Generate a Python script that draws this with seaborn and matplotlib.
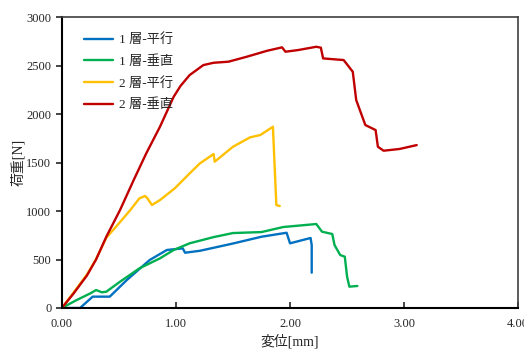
import seaborn as sns
import matplotlib.pyplot as plt
import pandas as pd

sns.set_theme(style="white")
plt.rcParams['font.family'] = ['Liberation Serif', 'Noto Sans CJK JP', 'DejaVu Sans']

# 1層-平行
x_1p = [0.00, 0.16, 0.27, 0.42, 0.57, 0.77, 0.92, 1.06, 1.08, 1.21, 1.50, 1.75, 1.97, 2.00, 2.18,
        2.19, 2.19]
y_1p = [0, 0, 117, 117, 289, 495, 598, 615, 570, 590, 665, 735, 776, 667, 722,
        649, 364]

# 1層-垂直
x_1v = [0.00, 0.13, 0.25, 0.30, 0.35, 0.39, 0.51, 0.68, 0.86, 0.98, 1.12, 1.33, 1.50, 1.75, 1.94,
        2.23, 2.28, 2.37, 2.39, 2.44, 2.48, 2.50, 2.52, 2.59]
y_1v = [0, 82, 151, 185, 162, 168, 271, 409, 512, 598, 667, 731, 773, 783, 835,
        866, 787, 763, 649, 546, 529, 323, 220, 227]

# 2層-平行
x_2p = [0.00, 0.10, 0.22, 0.30, 0.39, 0.48, 0.60, 0.68, 0.73, 0.75, 0.79, 0.86, 0.99, 1.12, 1.21,
        1.33, 1.34, 1.50, 1.65, 1.74, 1.85, 1.88, 1.91]
y_2p = [0, 155, 345, 505, 725, 845, 1010, 1131, 1155, 1131, 1062, 1113, 1234, 1388, 1491,
        1588, 1509, 1663, 1760, 1784, 1869, 1062, 1051]

# 2層-垂直
x_2v = [0.00, 0.10, 0.22, 0.30, 0.39, 0.51, 0.63, 0.74, 0.86, 0.98, 1.04, 1.12, 1.24, 1.33, 1.46,
        1.62, 1.80, 1.93, 1.96, 2.07, 2.23, 2.27, 2.29, 2.47, 2.55, 2.58, 2.66, 2.75, 2.77, 2.82,
        2.96, 3.11]
y_2v = [0, 145, 335, 500, 735, 1010, 1320, 1595, 1869, 2178, 2290, 2402, 2505, 2529, 2540,
        2591, 2653, 2688, 2643, 2660, 2694, 2685, 2574, 2557, 2436, 2144, 1887, 1835, 1663, 1622,
        1640, 1680]

series = [("1 層-平行", x_1p, y_1p, "#0070C0"),
          ("1 層-垂直", x_1v, y_1v, "#00B050"),
          ("2 層-平行", x_2p, y_2p, "#FFC000"),
          ("2 層-垂直", x_2v, y_2v, "#C00000")]

fig, ax = plt.subplots(figsize=(5.24, 3.49), dpi=100)
fig.subplots_adjust(left=0.118, right=0.989, bottom=0.1175, top=0.951)

for name, xs, ys, c in series:
    df = pd.DataFrame({"x": xs, "y": ys})
    sns.lineplot(data=df, x="x", y="y", sort=False, estimator=None,
                 color=c, linewidth=1.7, label=name, ax=ax)

ax.set(xlim=(0, 4), ylim=(0, 3000))
ax.set_xticks([0, 1, 2, 3, 4])
ax.set_xticklabels(["0.00", "1.00", "2.00", "3.00", "4.00"])
ax.set_yticks(range(0, 3001, 500))
ax.tick_params(axis="x", direction="in", length=4, width=1.2, labelsize=9, pad=7, bottom=True)
ax.tick_params(axis="y", direction="out", length=4, width=1.2, labelsize=9, left=True)
ax.set_xlabel("変位[mm]", fontsize=10, labelpad=3)
ax.set_ylabel("荷重[N]", fontsize=10, labelpad=1)

for s in ["left", "bottom"]:
    ax.spines[s].set_color("black")
    ax.spines[s].set_linewidth(1.5)
for s in ["top", "right"]:
    ax.spines[s].set_color("#404040")
    ax.spines[s].set_linewidth(1.2)

ax.legend(loc="upper left", frameon=False, fontsize=9.5, handlelength=2.2,
          handletextpad=0.5, bbox_to_anchor=(0.022, 0.985), labelspacing=0.68)

fig.savefig("out.png", dpi=100)
